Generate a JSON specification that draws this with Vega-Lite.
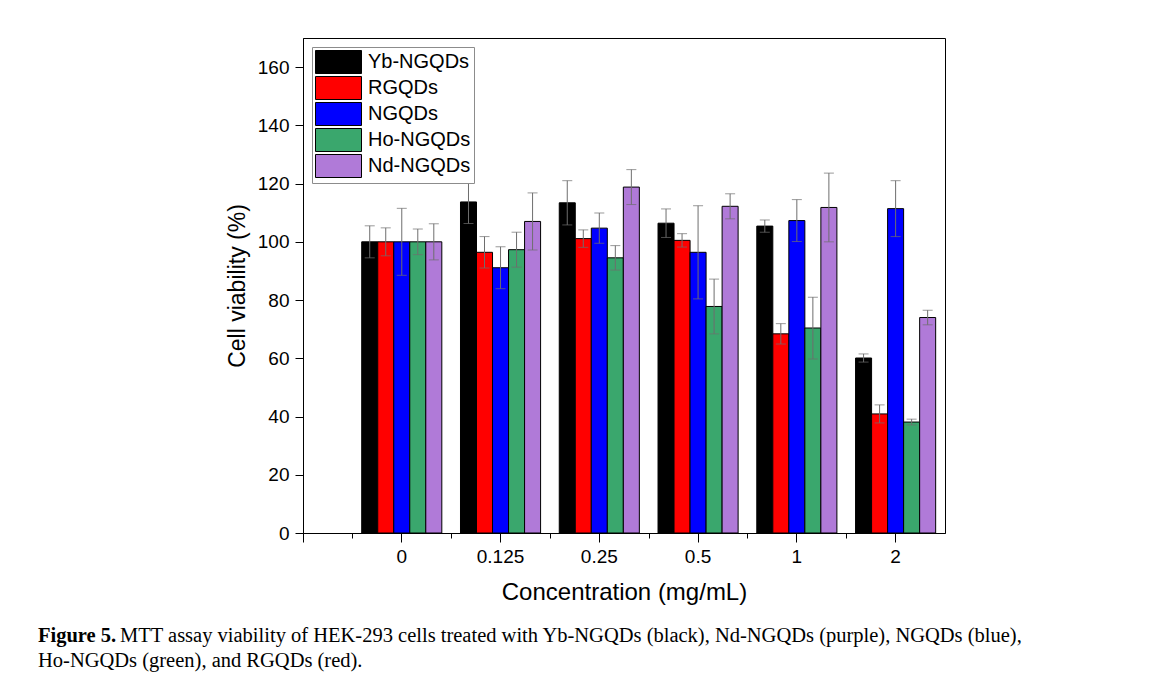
{
  "$schema": "https://vega.github.io/schema/vega-lite/v6.json",
  "width": 642,
  "height": 495,
  "autosize": {"type": "none"},
  "padding": {"left": 303, "top": 38, "right": 208, "bottom": 160},
  "background": "white",
  "config": {
    "view": {"stroke": "black", "strokeWidth": 1},
    "font": "Liberation Sans",
    "axis": {"domainColor": "black", "tickColor": "black", "labelColor": "black", "titleColor": "black", "grid": false, "labelFont": "Liberation Sans", "titleFont": "Liberation Sans", "titleFontWeight": "normal"}
  },
  "title": {
    "text": "Figure 5.",
    "subtitle": ["\u200b\u00a0\u00a0\u00a0\u00a0\u00a0\u00a0\u00a0\u00a0\u00a0\u00a0\u00a0\u00a0\u00a0\u00a0\u00a0\u00a0MTT assay viability of HEK-293 cells treated with Yb-NGQDs (black), Nd-NGQDs (purple), NGQDs (blue),", "Ho-NGQDs (green), and RGQDs (red)."],
    "orient": "bottom",
    "anchor": "start",
    "frame": "group",
    "dx": -265,
    "offset": 22,
    "font": "Liberation Serif",
    "fontSize": 20.5,
    "fontWeight": "bold",
    "color": "black",
    "subtitleFont": "Liberation Serif",
    "subtitleFontSize": 20.5,
    "subtitleFontWeight": "normal",
    "subtitleColor": "black",
    "subtitleLineHeight": 25,
    "subtitlePadding": -20.5
  },
  "data": {
    "values": [
      {"conc": "0", "sample": "Yb-NGQDs", "viability": 100, "lo": 94.5, "hi": 105.5},
      {"conc": "0", "sample": "RGQDs", "viability": 100, "lo": 95.2, "hi": 104.8},
      {"conc": "0", "sample": "NGQDs", "viability": 100, "lo": 88.5, "hi": 111.5},
      {"conc": "0", "sample": "Ho-NGQDs", "viability": 100, "lo": 95.6, "hi": 104.4},
      {"conc": "0", "sample": "Nd-NGQDs", "viability": 100, "lo": 93.8, "hi": 106.2},
      {"conc": "0.125", "sample": "Yb-NGQDs", "viability": 113.7, "lo": 106.3, "hi": 121.1},
      {"conc": "0.125", "sample": "RGQDs", "viability": 96.4, "lo": 91.0, "hi": 101.8},
      {"conc": "0.125", "sample": "NGQDs", "viability": 91.1, "lo": 83.9, "hi": 98.3},
      {"conc": "0.125", "sample": "Ho-NGQDs", "viability": 97.3, "lo": 91.3, "hi": 103.3},
      {"conc": "0.125", "sample": "Nd-NGQDs", "viability": 107.0, "lo": 97.2, "hi": 116.8},
      {"conc": "0.25", "sample": "Yb-NGQDs", "viability": 113.4, "lo": 105.8, "hi": 121.0},
      {"conc": "0.25", "sample": "RGQDs", "viability": 101.1, "lo": 98.1, "hi": 104.1},
      {"conc": "0.25", "sample": "NGQDs", "viability": 104.7, "lo": 99.5, "hi": 109.9},
      {"conc": "0.25", "sample": "Ho-NGQDs", "viability": 94.5, "lo": 90.3, "hi": 98.7},
      {"conc": "0.25", "sample": "Nd-NGQDs", "viability": 118.8, "lo": 112.8, "hi": 124.8},
      {"conc": "0.5", "sample": "Yb-NGQDs", "viability": 106.4, "lo": 101.5, "hi": 111.3},
      {"conc": "0.5", "sample": "RGQDs", "viability": 100.5, "lo": 98.2, "hi": 102.8},
      {"conc": "0.5", "sample": "NGQDs", "viability": 96.4, "lo": 80.4, "hi": 112.4},
      {"conc": "0.5", "sample": "Ho-NGQDs", "viability": 77.8, "lo": 68.4, "hi": 87.2},
      {"conc": "0.5", "sample": "Nd-NGQDs", "viability": 112.2, "lo": 107.9, "hi": 116.5},
      {"conc": "1", "sample": "Yb-NGQDs", "viability": 105.4, "lo": 103.3, "hi": 107.5},
      {"conc": "1", "sample": "RGQDs", "viability": 68.4, "lo": 64.9, "hi": 71.9},
      {"conc": "1", "sample": "NGQDs", "viability": 107.3, "lo": 100.1, "hi": 114.5},
      {"conc": "1", "sample": "Ho-NGQDs", "viability": 70.4, "lo": 59.8, "hi": 81.0},
      {"conc": "1", "sample": "Nd-NGQDs", "viability": 111.8, "lo": 100.0, "hi": 123.6},
      {"conc": "2", "sample": "Yb-NGQDs", "viability": 60.1, "lo": 58.7, "hi": 61.5},
      {"conc": "2", "sample": "RGQDs", "viability": 40.9, "lo": 37.8, "hi": 44.0},
      {"conc": "2", "sample": "NGQDs", "viability": 111.4, "lo": 101.8, "hi": 121.0},
      {"conc": "2", "sample": "Ho-NGQDs", "viability": 38.1, "lo": 37.1, "hi": 39.1},
      {"conc": "2", "sample": "Nd-NGQDs", "viability": 74.0, "lo": 71.5, "hi": 76.5}
    ]
  },
  "layer": [
    {
      "encoding": {
        "x": {
          "field": "conc", "type": "ordinal", "sort": null,
          "scale": {"paddingInner": 0.189, "paddingOuter": 0.3445, "align": 0.8628},
          "axis": {"orient": "bottom", "title": "Concentration (mg/mL)", "labelAngle": 0, "labelFontSize": 19, "labelPadding": 5, "tickSize": 9, "titleFontSize": 24, "titlePadding": 14}
        },
        "xOffset": {"field": "sample", "type": "nominal", "sort": ["Yb-NGQDs", "RGQDs", "NGQDs", "Ho-NGQDs", "Nd-NGQDs"]}
      },
      "layer": [
        {
          "mark": {"type": "bar", "stroke": "black", "strokeWidth": 1},
          "encoding": {
            "y": {
              "field": "viability", "type": "quantitative",
              "scale": {"domain": [0, 170], "nice": false},
              "axis": {
                "title": "Cell viability (%)",
                "values": [0, 10, 20, 30, 40, 50, 60, 70, 80, 90, 100, 110, 120, 130, 140, 150, 160],
                "labelExpr": "datum.value % 20 === 0 ? datum.label : ''",
                "tickSize": {"condition": {"test": "datum.value % 20 === 0", "value": 8}, "value": 5},
                "labelFontSize": 19,
                "labelPadding": 6,
                "titleFontSize": 23,
                "titlePadding": 8
              }
            },
            "color": {
              "field": "sample", "type": "nominal",
              "sort": ["Yb-NGQDs", "RGQDs", "NGQDs", "Ho-NGQDs", "Nd-NGQDs"],
              "scale": {"domain": ["Yb-NGQDs", "RGQDs", "NGQDs", "Ho-NGQDs", "Nd-NGQDs"], "range": ["#000000", "#ff0000", "#0000ff", "#3aa76d", "#b07ad8"]},
              "legend": {
                "title": null, "orient": "none", "legendX": 9, "legendY": 9,
                "strokeColor": "#8c8c8c", "fillColor": "white", "padding": 3,
                "symbolType": "M-1,-1H3V1H-1Z", "symbolSize": 529,
                "symbolStrokeColor": "black", "symbolStrokeWidth": 1, "symbolOpacity": 1,
                "labelFont": "Liberation Sans", "labelFontSize": 20, "labelColor": "black",
                "labelOffset": 29, "rowPadding": -3
              }
            }
          }
        },
        {
          "mark": {"type": "rule", "color": "#6e6e6e", "strokeWidth": 1},
          "encoding": {"y": {"field": "lo", "type": "quantitative"}, "y2": {"field": "hi"}}
        },
        {
          "mark": {"type": "tick", "color": "#6e6e6e", "size": 10, "thickness": 1},
          "encoding": {"y": {"field": "lo", "type": "quantitative"}}
        },
        {
          "mark": {"type": "tick", "color": "#6e6e6e", "size": 10, "thickness": 1},
          "encoding": {"y": {"field": "hi", "type": "quantitative"}}
        }
      ]
    },
    {
      "data": {"values": [{"minor": 0}]},
      "mark": {"type": "point", "opacity": 0},
      "encoding": {
        "x": {
          "field": "minor", "type": "quantitative",
          "scale": {"domain": [-1, 5.5], "nice": false, "zero": false},
          "axis": {"orient": "bottom", "values": [-1, -0.5, 0.5, 1.5, 2.5, 3.5, 4.5], "labels": false, "domain": false, "title": null, "tickSize": {"condition": {"test": "datum.value === -1", "value": 9}, "value": 5}}
        }
      }
    }
  ],
  "resolve": {"scale": {"x": "independent"}, "axis": {"x": "independent"}}
}
